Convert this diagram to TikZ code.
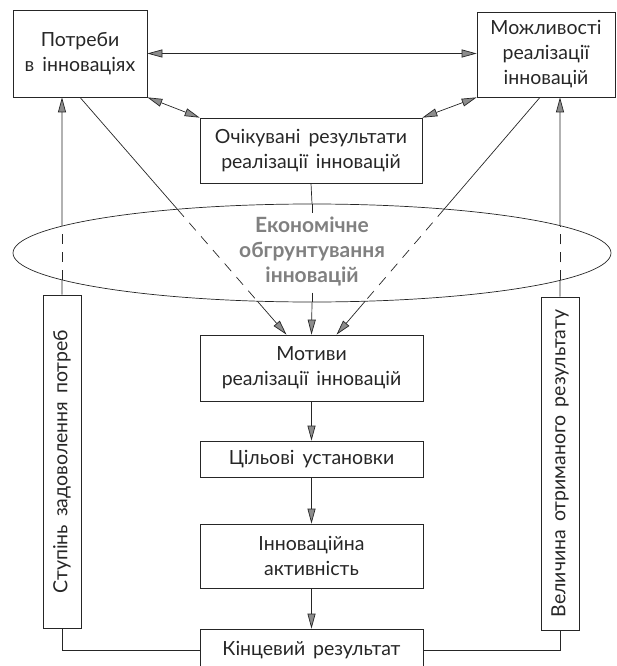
\documentclass[tikz,border=0pt]{standalone}
\usepackage{fontspec}
\setmainfont{Lato}
\usetikzlibrary{arrows.meta,shapes.geometric,intersections}
\newcommand{\boxfont}{\fontsize{19.5}{25}\selectfont\spaceskip=8pt plus 2pt\relax}

\begin{document}
\begin{tikzpicture}[x=1pt, y=-1pt, line width=0.7pt, color=black!85,
  >={Triangle[length=15pt,width=8pt,fill=black!45]},
  every node/.style={font=\boxfont, text=black!85, align=center, inner sep=0pt},
  box/.style={draw, rectangle},
  sidebox/.style={draw, rectangle, rotate=90, minimum width=333pt, minimum height=38pt},
  brk/.style={dash pattern=on 10pt off 8pt}]
\useasboundingbox (0,0) rectangle (617,666);
\node[ellipse, draw, minimum width=598pt, minimum height=98pt, name path=ell] (econ) at (312,253) {};
\node[text=black!50, font=\bfseries\fontsize{21}{25}\selectfont] (econt) at (312,252) {Економічне\\обгрунтування\\інновацій};
\node[box, minimum width=134pt, minimum height=87pt] (potr) at (80,53.5) {Потреби\\в інноваціях};
\node[box, minimum width=138pt, minimum height=85pt] (mozh) at (546,54.5) {Можливості\\реалізації\\інновацій};
\node[box, minimum width=222pt, minimum height=65pt] (ochik) at (311,150.5) {Очікувані результати\\реалізації інновацій};
\node[box, minimum width=223pt, minimum height=66pt] (motyv) at (311.5,368) {Мотиви\\реалізації інновацій};
\node[box, minimum width=223pt, minimum height=36pt] (cil) at (311.5,459) {Цільові установки};
\node[box, minimum width=223pt, minimum height=64pt] (akt) at (311.5,556) {Інноваційна\\активність};
\node[box, minimum width=223pt, minimum height=42pt] (kinc) at (311.5,650) {Кінцевий результат};
\node[sidebox] (lzad) at (62,461.5) {Ступінь задоволення потреб};
\node[sidebox] (rzad) at (560,463.5) {Величина отриманого результату};
% arrow ends
\coordinate (ml) at ([xshift=-25pt]motyv.north);
\coordinate (mr) at ([xshift=25pt]motyv.north);
\coordinate (rt) at ([xshift=-6pt]mozh.south);
\coordinate (lup) at (lzad.east |- potr.south);
\coordinate (rup) at (rzad.east |- mozh.south);
\draw[<->] (potr.east) -- (potr.east -| mozh.west);
\foreach \a/\b in {potr.south east/ochik.north west, ochik.north east/mozh.south west}
  \draw[<->] (\a) -- (\b);
% lines through the ellipse
\foreach \a/\b in {potr.south/ml, rt/mr, lzad.east/lup, rzad.east/rup} {
  \path[name path=cur] (\a) -- (\b);
  \draw[name intersections={of=cur and ell, sort by=cur, by={i1,i2}}] (\a) -- (i1);
  \draw[brk] (i1) -- (i2);
  \draw[->] (i2) -- (\b);
}
\draw (ochik.south) -- (econ.north);
\draw[dash pattern=on 9pt off 80pt] (econ.north) -- (econ.south);
\draw[->] (econ.south) -- (motyv.north);
\foreach \a/\b in {motyv/cil, cil/akt, akt/kinc}
  \draw[->] (\a) -- (\b);
\draw (lzad.west) |- (kinc.west);
\draw (rzad.west) |- (kinc.east);
\end{tikzpicture}
\end{document}
